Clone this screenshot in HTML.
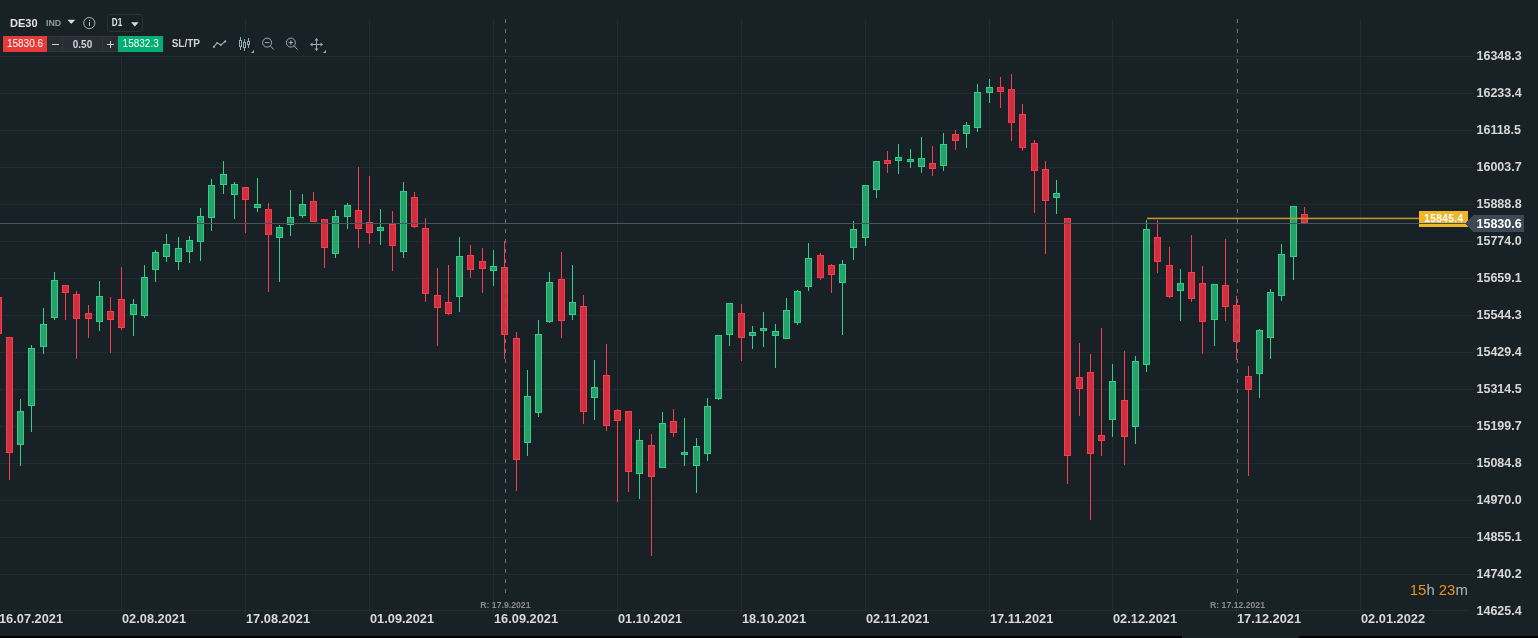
<!DOCTYPE html>
<html><head><meta charset="utf-8"><style>
html,body{margin:0;padding:0;background:#182125;}
body{width:1538px;height:638px;overflow:hidden;}
svg{display:block;will-change:transform;}
text{font-family:"Liberation Sans",sans-serif;}
</style></head><body>
<svg width="1538" height="638" viewBox="0 0 1538 638">
<rect x="0" y="0" width="1538" height="638" fill="#182125"/>
<g shape-rendering="crispEdges">
<rect x="0" y="56" width="1474" height="1" fill="#222b30"/>
<rect x="0" y="93" width="1474" height="1" fill="#222b30"/>
<rect x="0" y="130" width="1474" height="1" fill="#222b30"/>
<rect x="0" y="167" width="1474" height="1" fill="#222b30"/>
<rect x="0" y="204" width="1474" height="1" fill="#222b30"/>
<rect x="0" y="241" width="1474" height="1" fill="#222b30"/>
<rect x="0" y="278" width="1474" height="1" fill="#222b30"/>
<rect x="0" y="315" width="1474" height="1" fill="#222b30"/>
<rect x="0" y="352" width="1474" height="1" fill="#222b30"/>
<rect x="0" y="389" width="1474" height="1" fill="#222b30"/>
<rect x="0" y="426" width="1474" height="1" fill="#222b30"/>
<rect x="0" y="463" width="1474" height="1" fill="#222b30"/>
<rect x="0" y="500" width="1474" height="1" fill="#222b30"/>
<rect x="0" y="537" width="1474" height="1" fill="#222b30"/>
<rect x="0" y="574" width="1474" height="1" fill="#222b30"/>
<rect x="0" y="610" width="1469" height="1" fill="#222b30"/>
<rect x="121" y="19" width="1" height="595" fill="#222b30"/>
<rect x="245" y="19" width="1" height="595" fill="#222b30"/>
<rect x="369" y="19" width="1" height="595" fill="#222b30"/>
<rect x="493" y="19" width="1" height="595" fill="#222b30"/>
<rect x="617" y="19" width="1" height="595" fill="#222b30"/>
<rect x="741" y="19" width="1" height="595" fill="#222b30"/>
<rect x="865" y="19" width="1" height="595" fill="#222b30"/>
<rect x="989" y="19" width="1" height="595" fill="#222b30"/>
<rect x="1112" y="19" width="1" height="595" fill="#222b30"/>
<rect x="1236" y="19" width="1" height="595" fill="#222b30"/>
<rect x="1360" y="19" width="1" height="595" fill="#222b30"/>
<rect x="0" y="0" width="170" height="56" fill="#182125"/>
<rect x="0" y="33" width="335" height="23" fill="#182125"/>
<rect x="-2" y="297" width="1" height="37" fill="#f83c4e"/>
<rect x="-5" y="297" width="7" height="37" fill="#f83c4e"/>
<rect x="-4" y="298" width="5" height="35" fill="#cf2f3e"/>
<rect x="9" y="337" width="1" height="143" fill="#f83c4e"/>
<rect x="6" y="337" width="7" height="116" fill="#f83c4e"/>
<rect x="7" y="338" width="5" height="114" fill="#cf2f3e"/>
<rect x="20" y="399" width="1" height="67" fill="#2ed089"/>
<rect x="17" y="411" width="7" height="34" fill="#2ed089"/>
<rect x="18" y="412" width="5" height="32" fill="#25a169"/>
<rect x="31" y="345" width="1" height="87" fill="#2ed089"/>
<rect x="28" y="348" width="7" height="58" fill="#2ed089"/>
<rect x="29" y="349" width="5" height="56" fill="#25a169"/>
<rect x="43" y="308" width="1" height="46" fill="#2ed089"/>
<rect x="40" y="324" width="7" height="23" fill="#2ed089"/>
<rect x="41" y="325" width="5" height="21" fill="#25a169"/>
<rect x="54" y="272" width="1" height="48" fill="#2ed089"/>
<rect x="51" y="280" width="7" height="38" fill="#2ed089"/>
<rect x="52" y="281" width="5" height="36" fill="#25a169"/>
<rect x="65" y="285" width="1" height="35" fill="#f83c4e"/>
<rect x="62" y="285" width="7" height="8" fill="#f83c4e"/>
<rect x="63" y="286" width="5" height="6" fill="#cf2f3e"/>
<rect x="76" y="291" width="1" height="68" fill="#f83c4e"/>
<rect x="73" y="294" width="7" height="25" fill="#f83c4e"/>
<rect x="74" y="295" width="5" height="23" fill="#cf2f3e"/>
<rect x="88" y="305" width="1" height="33" fill="#f83c4e"/>
<rect x="85" y="313" width="7" height="6" fill="#f83c4e"/>
<rect x="86" y="314" width="5" height="4" fill="#cf2f3e"/>
<rect x="99" y="281" width="1" height="50" fill="#2ed089"/>
<rect x="96" y="296" width="7" height="26" fill="#2ed089"/>
<rect x="97" y="297" width="5" height="24" fill="#25a169"/>
<rect x="110" y="297" width="1" height="56" fill="#f83c4e"/>
<rect x="107" y="311" width="7" height="9" fill="#f83c4e"/>
<rect x="108" y="312" width="5" height="7" fill="#cf2f3e"/>
<rect x="121" y="267" width="1" height="63" fill="#f83c4e"/>
<rect x="118" y="299" width="7" height="29" fill="#f83c4e"/>
<rect x="119" y="300" width="5" height="27" fill="#cf2f3e"/>
<rect x="133" y="299" width="1" height="37" fill="#2ed089"/>
<rect x="130" y="304" width="7" height="11" fill="#2ed089"/>
<rect x="131" y="305" width="5" height="9" fill="#25a169"/>
<rect x="144" y="265" width="1" height="53" fill="#2ed089"/>
<rect x="141" y="277" width="7" height="39" fill="#2ed089"/>
<rect x="142" y="278" width="5" height="37" fill="#25a169"/>
<rect x="155" y="250" width="1" height="32" fill="#2ed089"/>
<rect x="152" y="252" width="7" height="18" fill="#2ed089"/>
<rect x="153" y="253" width="5" height="16" fill="#25a169"/>
<rect x="166" y="234" width="1" height="28" fill="#2ed089"/>
<rect x="163" y="244" width="7" height="13" fill="#2ed089"/>
<rect x="164" y="245" width="5" height="11" fill="#25a169"/>
<rect x="178" y="237" width="1" height="33" fill="#2ed089"/>
<rect x="175" y="248" width="7" height="14" fill="#2ed089"/>
<rect x="176" y="249" width="5" height="12" fill="#25a169"/>
<rect x="189" y="236" width="1" height="27" fill="#2ed089"/>
<rect x="186" y="240" width="7" height="12" fill="#2ed089"/>
<rect x="187" y="241" width="5" height="10" fill="#25a169"/>
<rect x="200" y="208" width="1" height="53" fill="#2ed089"/>
<rect x="197" y="216" width="7" height="26" fill="#2ed089"/>
<rect x="198" y="217" width="5" height="24" fill="#25a169"/>
<rect x="211" y="179" width="1" height="52" fill="#2ed089"/>
<rect x="208" y="185" width="7" height="33" fill="#2ed089"/>
<rect x="209" y="186" width="5" height="31" fill="#25a169"/>
<rect x="223" y="161" width="1" height="33" fill="#2ed089"/>
<rect x="220" y="174" width="7" height="11" fill="#2ed089"/>
<rect x="221" y="175" width="5" height="9" fill="#25a169"/>
<rect x="234" y="182" width="1" height="37" fill="#2ed089"/>
<rect x="231" y="184" width="7" height="11" fill="#2ed089"/>
<rect x="232" y="185" width="5" height="9" fill="#25a169"/>
<rect x="245" y="187" width="1" height="46" fill="#f83c4e"/>
<rect x="242" y="187" width="7" height="13" fill="#f83c4e"/>
<rect x="243" y="188" width="5" height="11" fill="#cf2f3e"/>
<rect x="257" y="178" width="1" height="34" fill="#2ed089"/>
<rect x="254" y="204" width="7" height="4" fill="#2ed089"/>
<rect x="255" y="205" width="5" height="2" fill="#25a169"/>
<rect x="268" y="203" width="1" height="89" fill="#f83c4e"/>
<rect x="265" y="209" width="7" height="26" fill="#f83c4e"/>
<rect x="266" y="210" width="5" height="24" fill="#cf2f3e"/>
<rect x="279" y="225" width="1" height="57" fill="#2ed089"/>
<rect x="276" y="227" width="7" height="11" fill="#2ed089"/>
<rect x="277" y="228" width="5" height="9" fill="#25a169"/>
<rect x="290" y="190" width="1" height="46" fill="#2ed089"/>
<rect x="287" y="217" width="7" height="8" fill="#2ed089"/>
<rect x="288" y="218" width="5" height="6" fill="#25a169"/>
<rect x="302" y="194" width="1" height="24" fill="#2ed089"/>
<rect x="299" y="204" width="7" height="12" fill="#2ed089"/>
<rect x="300" y="205" width="5" height="10" fill="#25a169"/>
<rect x="313" y="192" width="1" height="30" fill="#f83c4e"/>
<rect x="310" y="201" width="7" height="21" fill="#f83c4e"/>
<rect x="311" y="202" width="5" height="19" fill="#cf2f3e"/>
<rect x="324" y="219" width="1" height="49" fill="#f83c4e"/>
<rect x="321" y="219" width="7" height="29" fill="#f83c4e"/>
<rect x="322" y="220" width="5" height="27" fill="#cf2f3e"/>
<rect x="335" y="210" width="1" height="48" fill="#2ed089"/>
<rect x="332" y="216" width="7" height="38" fill="#2ed089"/>
<rect x="333" y="217" width="5" height="36" fill="#25a169"/>
<rect x="347" y="203" width="1" height="26" fill="#2ed089"/>
<rect x="344" y="205" width="7" height="12" fill="#2ed089"/>
<rect x="345" y="206" width="5" height="10" fill="#25a169"/>
<rect x="358" y="167" width="1" height="81" fill="#f83c4e"/>
<rect x="355" y="210" width="7" height="19" fill="#f83c4e"/>
<rect x="356" y="211" width="5" height="17" fill="#cf2f3e"/>
<rect x="369" y="176" width="1" height="68" fill="#f83c4e"/>
<rect x="366" y="222" width="7" height="11" fill="#f83c4e"/>
<rect x="367" y="223" width="5" height="9" fill="#cf2f3e"/>
<rect x="380" y="209" width="1" height="36" fill="#2ed089"/>
<rect x="377" y="227" width="7" height="4" fill="#2ed089"/>
<rect x="378" y="228" width="5" height="2" fill="#25a169"/>
<rect x="392" y="211" width="1" height="60" fill="#f83c4e"/>
<rect x="389" y="224" width="7" height="22" fill="#f83c4e"/>
<rect x="390" y="225" width="5" height="20" fill="#cf2f3e"/>
<rect x="403" y="182" width="1" height="76" fill="#2ed089"/>
<rect x="400" y="191" width="7" height="61" fill="#2ed089"/>
<rect x="401" y="192" width="5" height="59" fill="#25a169"/>
<rect x="414" y="192" width="1" height="36" fill="#f83c4e"/>
<rect x="411" y="197" width="7" height="30" fill="#f83c4e"/>
<rect x="412" y="198" width="5" height="28" fill="#cf2f3e"/>
<rect x="425" y="218" width="1" height="84" fill="#f83c4e"/>
<rect x="422" y="228" width="7" height="66" fill="#f83c4e"/>
<rect x="423" y="229" width="5" height="64" fill="#cf2f3e"/>
<rect x="437" y="268" width="1" height="78" fill="#f83c4e"/>
<rect x="434" y="295" width="7" height="13" fill="#f83c4e"/>
<rect x="435" y="296" width="5" height="11" fill="#cf2f3e"/>
<rect x="448" y="265" width="1" height="50" fill="#f83c4e"/>
<rect x="445" y="302" width="7" height="12" fill="#f83c4e"/>
<rect x="446" y="303" width="5" height="10" fill="#cf2f3e"/>
<rect x="459" y="237" width="1" height="75" fill="#2ed089"/>
<rect x="456" y="256" width="7" height="41" fill="#2ed089"/>
<rect x="457" y="257" width="5" height="39" fill="#25a169"/>
<rect x="470" y="245" width="1" height="33" fill="#f83c4e"/>
<rect x="467" y="255" width="7" height="15" fill="#f83c4e"/>
<rect x="468" y="256" width="5" height="13" fill="#cf2f3e"/>
<rect x="482" y="248" width="1" height="45" fill="#f83c4e"/>
<rect x="479" y="261" width="7" height="8" fill="#f83c4e"/>
<rect x="480" y="262" width="5" height="6" fill="#cf2f3e"/>
<rect x="493" y="250" width="1" height="36" fill="#2ed089"/>
<rect x="490" y="266" width="7" height="5" fill="#2ed089"/>
<rect x="491" y="267" width="5" height="3" fill="#25a169"/>
<rect x="504" y="241" width="1" height="118" fill="#f83c4e"/>
<rect x="501" y="267" width="7" height="68" fill="#f83c4e"/>
<rect x="502" y="268" width="5" height="66" fill="#cf2f3e"/>
<rect x="516" y="332" width="1" height="159" fill="#f83c4e"/>
<rect x="513" y="338" width="7" height="122" fill="#f83c4e"/>
<rect x="514" y="339" width="5" height="120" fill="#cf2f3e"/>
<rect x="527" y="370" width="1" height="86" fill="#2ed089"/>
<rect x="524" y="396" width="7" height="47" fill="#2ed089"/>
<rect x="525" y="397" width="5" height="45" fill="#25a169"/>
<rect x="538" y="320" width="1" height="97" fill="#2ed089"/>
<rect x="535" y="334" width="7" height="79" fill="#2ed089"/>
<rect x="536" y="335" width="5" height="77" fill="#25a169"/>
<rect x="549" y="272" width="1" height="51" fill="#2ed089"/>
<rect x="546" y="282" width="7" height="40" fill="#2ed089"/>
<rect x="547" y="283" width="5" height="38" fill="#25a169"/>
<rect x="561" y="252" width="1" height="86" fill="#f83c4e"/>
<rect x="558" y="279" width="7" height="42" fill="#f83c4e"/>
<rect x="559" y="280" width="5" height="40" fill="#cf2f3e"/>
<rect x="572" y="265" width="1" height="55" fill="#2ed089"/>
<rect x="569" y="302" width="7" height="13" fill="#2ed089"/>
<rect x="570" y="303" width="5" height="11" fill="#25a169"/>
<rect x="583" y="295" width="1" height="129" fill="#f83c4e"/>
<rect x="580" y="306" width="7" height="106" fill="#f83c4e"/>
<rect x="581" y="307" width="5" height="104" fill="#cf2f3e"/>
<rect x="594" y="360" width="1" height="60" fill="#2ed089"/>
<rect x="591" y="387" width="7" height="11" fill="#2ed089"/>
<rect x="592" y="388" width="5" height="9" fill="#25a169"/>
<rect x="606" y="344" width="1" height="87" fill="#f83c4e"/>
<rect x="603" y="375" width="7" height="51" fill="#f83c4e"/>
<rect x="604" y="376" width="5" height="49" fill="#cf2f3e"/>
<rect x="617" y="409" width="1" height="93" fill="#f83c4e"/>
<rect x="614" y="410" width="7" height="11" fill="#f83c4e"/>
<rect x="615" y="411" width="5" height="9" fill="#cf2f3e"/>
<rect x="628" y="411" width="1" height="81" fill="#f83c4e"/>
<rect x="625" y="411" width="7" height="61" fill="#f83c4e"/>
<rect x="626" y="412" width="5" height="59" fill="#cf2f3e"/>
<rect x="639" y="429" width="1" height="70" fill="#2ed089"/>
<rect x="636" y="440" width="7" height="34" fill="#2ed089"/>
<rect x="637" y="441" width="5" height="32" fill="#25a169"/>
<rect x="651" y="434" width="1" height="122" fill="#f83c4e"/>
<rect x="648" y="445" width="7" height="32" fill="#f83c4e"/>
<rect x="649" y="446" width="5" height="30" fill="#cf2f3e"/>
<rect x="662" y="412" width="1" height="56" fill="#2ed089"/>
<rect x="659" y="423" width="7" height="45" fill="#2ed089"/>
<rect x="660" y="424" width="5" height="43" fill="#25a169"/>
<rect x="673" y="409" width="1" height="28" fill="#f83c4e"/>
<rect x="670" y="421" width="7" height="12" fill="#f83c4e"/>
<rect x="671" y="422" width="5" height="10" fill="#cf2f3e"/>
<rect x="684" y="418" width="1" height="48" fill="#2ed089"/>
<rect x="681" y="452" width="7" height="3" fill="#2ed089"/>
<rect x="682" y="453" width="5" height="1" fill="#25a169"/>
<rect x="696" y="438" width="1" height="55" fill="#2ed089"/>
<rect x="693" y="446" width="7" height="20" fill="#2ed089"/>
<rect x="694" y="447" width="5" height="18" fill="#25a169"/>
<rect x="707" y="398" width="1" height="63" fill="#2ed089"/>
<rect x="704" y="406" width="7" height="48" fill="#2ed089"/>
<rect x="705" y="407" width="5" height="46" fill="#25a169"/>
<rect x="718" y="335" width="1" height="65" fill="#2ed089"/>
<rect x="715" y="335" width="7" height="64" fill="#2ed089"/>
<rect x="716" y="336" width="5" height="62" fill="#25a169"/>
<rect x="729" y="303" width="1" height="43" fill="#2ed089"/>
<rect x="726" y="303" width="7" height="32" fill="#2ed089"/>
<rect x="727" y="304" width="5" height="30" fill="#25a169"/>
<rect x="741" y="304" width="1" height="57" fill="#f83c4e"/>
<rect x="738" y="313" width="7" height="25" fill="#f83c4e"/>
<rect x="739" y="314" width="5" height="23" fill="#cf2f3e"/>
<rect x="752" y="326" width="1" height="23" fill="#2ed089"/>
<rect x="749" y="332" width="7" height="4" fill="#2ed089"/>
<rect x="750" y="333" width="5" height="2" fill="#25a169"/>
<rect x="763" y="312" width="1" height="35" fill="#2ed089"/>
<rect x="760" y="328" width="7" height="3" fill="#2ed089"/>
<rect x="761" y="329" width="5" height="1" fill="#25a169"/>
<rect x="775" y="324" width="1" height="44" fill="#2ed089"/>
<rect x="772" y="331" width="7" height="5" fill="#2ed089"/>
<rect x="773" y="332" width="5" height="3" fill="#25a169"/>
<rect x="786" y="298" width="1" height="41" fill="#2ed089"/>
<rect x="783" y="310" width="7" height="29" fill="#2ed089"/>
<rect x="784" y="311" width="5" height="27" fill="#25a169"/>
<rect x="797" y="290" width="1" height="35" fill="#2ed089"/>
<rect x="794" y="291" width="7" height="32" fill="#2ed089"/>
<rect x="795" y="292" width="5" height="30" fill="#25a169"/>
<rect x="808" y="243" width="1" height="48" fill="#2ed089"/>
<rect x="805" y="258" width="7" height="29" fill="#2ed089"/>
<rect x="806" y="259" width="5" height="27" fill="#25a169"/>
<rect x="820" y="253" width="1" height="27" fill="#f83c4e"/>
<rect x="817" y="255" width="7" height="23" fill="#f83c4e"/>
<rect x="818" y="256" width="5" height="21" fill="#cf2f3e"/>
<rect x="831" y="264" width="1" height="29" fill="#f83c4e"/>
<rect x="828" y="265" width="7" height="10" fill="#f83c4e"/>
<rect x="829" y="266" width="5" height="8" fill="#cf2f3e"/>
<rect x="842" y="260" width="1" height="75" fill="#2ed089"/>
<rect x="839" y="264" width="7" height="19" fill="#2ed089"/>
<rect x="840" y="265" width="5" height="17" fill="#25a169"/>
<rect x="853" y="221" width="1" height="39" fill="#2ed089"/>
<rect x="850" y="229" width="7" height="19" fill="#2ed089"/>
<rect x="851" y="230" width="5" height="17" fill="#25a169"/>
<rect x="865" y="185" width="1" height="61" fill="#2ed089"/>
<rect x="862" y="185" width="7" height="53" fill="#2ed089"/>
<rect x="863" y="186" width="5" height="51" fill="#25a169"/>
<rect x="876" y="161" width="1" height="37" fill="#2ed089"/>
<rect x="873" y="161" width="7" height="29" fill="#2ed089"/>
<rect x="874" y="162" width="5" height="27" fill="#25a169"/>
<rect x="887" y="151" width="1" height="22" fill="#f83c4e"/>
<rect x="884" y="160" width="7" height="4" fill="#f83c4e"/>
<rect x="885" y="161" width="5" height="2" fill="#cf2f3e"/>
<rect x="898" y="144" width="1" height="30" fill="#2ed089"/>
<rect x="895" y="157" width="7" height="4" fill="#2ed089"/>
<rect x="896" y="158" width="5" height="2" fill="#25a169"/>
<rect x="910" y="149" width="1" height="19" fill="#2ed089"/>
<rect x="907" y="159" width="7" height="3" fill="#2ed089"/>
<rect x="908" y="160" width="5" height="1" fill="#25a169"/>
<rect x="921" y="137" width="1" height="36" fill="#2ed089"/>
<rect x="918" y="158" width="7" height="9" fill="#2ed089"/>
<rect x="919" y="159" width="5" height="7" fill="#25a169"/>
<rect x="932" y="146" width="1" height="30" fill="#f83c4e"/>
<rect x="929" y="163" width="7" height="6" fill="#f83c4e"/>
<rect x="930" y="164" width="5" height="4" fill="#cf2f3e"/>
<rect x="943" y="133" width="1" height="38" fill="#2ed089"/>
<rect x="940" y="144" width="7" height="22" fill="#2ed089"/>
<rect x="941" y="145" width="5" height="20" fill="#25a169"/>
<rect x="955" y="130" width="1" height="20" fill="#f83c4e"/>
<rect x="952" y="134" width="7" height="7" fill="#f83c4e"/>
<rect x="953" y="135" width="5" height="5" fill="#cf2f3e"/>
<rect x="966" y="122" width="1" height="26" fill="#2ed089"/>
<rect x="963" y="125" width="7" height="9" fill="#2ed089"/>
<rect x="964" y="126" width="5" height="7" fill="#25a169"/>
<rect x="977" y="84" width="1" height="48" fill="#2ed089"/>
<rect x="974" y="92" width="7" height="36" fill="#2ed089"/>
<rect x="975" y="93" width="5" height="34" fill="#25a169"/>
<rect x="989" y="79" width="1" height="24" fill="#2ed089"/>
<rect x="986" y="87" width="7" height="6" fill="#2ed089"/>
<rect x="987" y="88" width="5" height="4" fill="#25a169"/>
<rect x="1000" y="77" width="1" height="31" fill="#f83c4e"/>
<rect x="997" y="87" width="7" height="5" fill="#f83c4e"/>
<rect x="998" y="88" width="5" height="3" fill="#cf2f3e"/>
<rect x="1011" y="74" width="1" height="67" fill="#f83c4e"/>
<rect x="1008" y="89" width="7" height="34" fill="#f83c4e"/>
<rect x="1009" y="90" width="5" height="32" fill="#cf2f3e"/>
<rect x="1022" y="104" width="1" height="47" fill="#f83c4e"/>
<rect x="1019" y="114" width="7" height="34" fill="#f83c4e"/>
<rect x="1020" y="115" width="5" height="32" fill="#cf2f3e"/>
<rect x="1034" y="140" width="1" height="73" fill="#f83c4e"/>
<rect x="1031" y="143" width="7" height="28" fill="#f83c4e"/>
<rect x="1032" y="144" width="5" height="26" fill="#cf2f3e"/>
<rect x="1045" y="161" width="1" height="93" fill="#f83c4e"/>
<rect x="1042" y="169" width="7" height="32" fill="#f83c4e"/>
<rect x="1043" y="170" width="5" height="30" fill="#cf2f3e"/>
<rect x="1056" y="180" width="1" height="34" fill="#2ed089"/>
<rect x="1053" y="193" width="7" height="5" fill="#2ed089"/>
<rect x="1054" y="194" width="5" height="3" fill="#25a169"/>
<rect x="1067" y="218" width="1" height="266" fill="#f83c4e"/>
<rect x="1064" y="218" width="7" height="238" fill="#f83c4e"/>
<rect x="1065" y="219" width="5" height="236" fill="#cf2f3e"/>
<rect x="1079" y="343" width="1" height="73" fill="#f83c4e"/>
<rect x="1076" y="377" width="7" height="12" fill="#f83c4e"/>
<rect x="1077" y="378" width="5" height="10" fill="#cf2f3e"/>
<rect x="1090" y="354" width="1" height="166" fill="#f83c4e"/>
<rect x="1087" y="372" width="7" height="82" fill="#f83c4e"/>
<rect x="1088" y="373" width="5" height="80" fill="#cf2f3e"/>
<rect x="1101" y="328" width="1" height="128" fill="#f83c4e"/>
<rect x="1098" y="435" width="7" height="6" fill="#f83c4e"/>
<rect x="1099" y="436" width="5" height="4" fill="#cf2f3e"/>
<rect x="1112" y="364" width="1" height="73" fill="#2ed089"/>
<rect x="1109" y="381" width="7" height="39" fill="#2ed089"/>
<rect x="1110" y="382" width="5" height="37" fill="#25a169"/>
<rect x="1124" y="351" width="1" height="114" fill="#f83c4e"/>
<rect x="1121" y="400" width="7" height="37" fill="#f83c4e"/>
<rect x="1122" y="401" width="5" height="35" fill="#cf2f3e"/>
<rect x="1135" y="356" width="1" height="88" fill="#2ed089"/>
<rect x="1132" y="361" width="7" height="66" fill="#2ed089"/>
<rect x="1133" y="362" width="5" height="64" fill="#25a169"/>
<rect x="1146" y="220" width="1" height="152" fill="#2ed089"/>
<rect x="1143" y="229" width="7" height="136" fill="#2ed089"/>
<rect x="1144" y="230" width="5" height="134" fill="#25a169"/>
<rect x="1157" y="220" width="1" height="53" fill="#f83c4e"/>
<rect x="1154" y="237" width="7" height="25" fill="#f83c4e"/>
<rect x="1155" y="238" width="5" height="23" fill="#cf2f3e"/>
<rect x="1169" y="247" width="1" height="51" fill="#f83c4e"/>
<rect x="1166" y="265" width="7" height="32" fill="#f83c4e"/>
<rect x="1167" y="266" width="5" height="30" fill="#cf2f3e"/>
<rect x="1180" y="269" width="1" height="52" fill="#2ed089"/>
<rect x="1177" y="283" width="7" height="8" fill="#2ed089"/>
<rect x="1178" y="284" width="5" height="6" fill="#25a169"/>
<rect x="1191" y="235" width="1" height="67" fill="#f83c4e"/>
<rect x="1188" y="272" width="7" height="27" fill="#f83c4e"/>
<rect x="1189" y="273" width="5" height="25" fill="#cf2f3e"/>
<rect x="1202" y="266" width="1" height="88" fill="#f83c4e"/>
<rect x="1199" y="283" width="7" height="39" fill="#f83c4e"/>
<rect x="1200" y="284" width="5" height="37" fill="#cf2f3e"/>
<rect x="1214" y="284" width="1" height="62" fill="#2ed089"/>
<rect x="1211" y="284" width="7" height="36" fill="#2ed089"/>
<rect x="1212" y="285" width="5" height="34" fill="#25a169"/>
<rect x="1225" y="239" width="1" height="82" fill="#f83c4e"/>
<rect x="1222" y="285" width="7" height="22" fill="#f83c4e"/>
<rect x="1223" y="286" width="5" height="20" fill="#cf2f3e"/>
<rect x="1236" y="296" width="1" height="64" fill="#f83c4e"/>
<rect x="1233" y="305" width="7" height="37" fill="#f83c4e"/>
<rect x="1234" y="306" width="5" height="35" fill="#cf2f3e"/>
<rect x="1248" y="366" width="1" height="110" fill="#f83c4e"/>
<rect x="1245" y="376" width="7" height="14" fill="#f83c4e"/>
<rect x="1246" y="377" width="5" height="12" fill="#cf2f3e"/>
<rect x="1259" y="329" width="1" height="69" fill="#2ed089"/>
<rect x="1256" y="330" width="7" height="44" fill="#2ed089"/>
<rect x="1257" y="331" width="5" height="42" fill="#25a169"/>
<rect x="1270" y="289" width="1" height="70" fill="#2ed089"/>
<rect x="1267" y="292" width="7" height="46" fill="#2ed089"/>
<rect x="1268" y="293" width="5" height="44" fill="#25a169"/>
<rect x="1281" y="244" width="1" height="57" fill="#2ed089"/>
<rect x="1278" y="254" width="7" height="42" fill="#2ed089"/>
<rect x="1279" y="255" width="5" height="40" fill="#25a169"/>
<rect x="1293" y="206" width="1" height="74" fill="#2ed089"/>
<rect x="1290" y="206" width="7" height="51" fill="#2ed089"/>
<rect x="1291" y="207" width="5" height="49" fill="#25a169"/>
<rect x="1304" y="207" width="1" height="16" fill="#f83c4e"/>
<rect x="1301" y="214" width="7" height="9" fill="#f83c4e"/>
<rect x="1302" y="215" width="5" height="7" fill="#cf2f3e"/>
<line x1="505.5" y1="19" x2="505.5" y2="594" stroke="#6b7075" stroke-width="1" stroke-dasharray="4 6"/>
<line x1="1237.5" y1="19" x2="1237.5" y2="594" stroke="#6b7075" stroke-width="1" stroke-dasharray="4 6"/>
<rect x="1147" y="218" width="272" height="1" fill="#c09a30"/><rect x="1147" y="217" width="272" height="1" fill="#c09a30" fill-opacity="0.35"/><rect x="1147" y="219" width="272" height="1" fill="#c09a30" fill-opacity="0.2"/>
<rect x="1419" y="211" width="49" height="16" fill="#f1b52a"/>
<rect x="0" y="223" width="1466" height="1" fill="#465660"/>
<polygon points="1464.5,223.5 1473,215 1524,215 1524,232 1473,232" fill="#3d4a55"/>
<rect x="0" y="636" width="1538" height="2" fill="#000"/>
<rect x="1182" y="636" width="117" height="2" fill="#182125"/>
</g>
<defs><linearGradient id="yg" x1="0" x2="1" y1="0" y2="0"><stop offset="0" stop-color="#a3822f"/><stop offset="1" stop-color="#d0a330"/></linearGradient></defs>
<text x="1424.3" y="221.8" font-size="10" font-weight="bold" fill="#ffffff" font-family="Liberation Sans" letter-spacing="0.42">15845.4</text>
<text x="1476.5" y="227.8" font-size="12.5" font-weight="bold" fill="#ffffff" font-family="Liberation Sans">15830.6</text>
<text x="1476.5" y="60.2" font-size="12.5" font-weight="bold" fill="#d8d8d8" font-family="Liberation Sans">16348.3</text>
<text x="1476.5" y="97.1" font-size="12.5" font-weight="bold" fill="#d8d8d8" font-family="Liberation Sans">16233.4</text>
<text x="1476.5" y="134.1" font-size="12.5" font-weight="bold" fill="#d8d8d8" font-family="Liberation Sans">16118.5</text>
<text x="1476.5" y="171.1" font-size="12.5" font-weight="bold" fill="#d8d8d8" font-family="Liberation Sans">16003.7</text>
<text x="1476.5" y="208.0" font-size="12.5" font-weight="bold" fill="#d8d8d8" font-family="Liberation Sans">15888.8</text>
<text x="1476.5" y="245.0" font-size="12.5" font-weight="bold" fill="#d8d8d8" font-family="Liberation Sans">15774.0</text>
<text x="1476.5" y="281.9" font-size="12.5" font-weight="bold" fill="#d8d8d8" font-family="Liberation Sans">15659.1</text>
<text x="1476.5" y="318.9" font-size="12.5" font-weight="bold" fill="#d8d8d8" font-family="Liberation Sans">15544.3</text>
<text x="1476.5" y="355.9" font-size="12.5" font-weight="bold" fill="#d8d8d8" font-family="Liberation Sans">15429.4</text>
<text x="1476.5" y="392.8" font-size="12.5" font-weight="bold" fill="#d8d8d8" font-family="Liberation Sans">15314.5</text>
<text x="1476.5" y="429.8" font-size="12.5" font-weight="bold" fill="#d8d8d8" font-family="Liberation Sans">15199.7</text>
<text x="1476.5" y="466.7" font-size="12.5" font-weight="bold" fill="#d8d8d8" font-family="Liberation Sans">15084.8</text>
<text x="1476.5" y="503.7" font-size="12.5" font-weight="bold" fill="#d8d8d8" font-family="Liberation Sans">14970.0</text>
<text x="1476.5" y="540.7" font-size="12.5" font-weight="bold" fill="#d8d8d8" font-family="Liberation Sans">14855.1</text>
<text x="1476.5" y="577.6" font-size="12.5" font-weight="bold" fill="#d8d8d8" font-family="Liberation Sans">14740.2</text>
<text x="1476.5" y="614.6" font-size="12.5" font-weight="bold" fill="#d8d8d8" font-family="Liberation Sans">14625.4</text>
<text x="-1" y="623" font-size="12.8" font-weight="bold" fill="#d8d8d8" font-family="Liberation Sans">16.07.2021</text>
<text x="122" y="623" font-size="12.8" font-weight="bold" fill="#d8d8d8" font-family="Liberation Sans">02.08.2021</text>
<text x="246" y="623" font-size="12.8" font-weight="bold" fill="#d8d8d8" font-family="Liberation Sans">17.08.2021</text>
<text x="370" y="623" font-size="12.8" font-weight="bold" fill="#d8d8d8" font-family="Liberation Sans">01.09.2021</text>
<text x="494" y="623" font-size="12.8" font-weight="bold" fill="#d8d8d8" font-family="Liberation Sans">16.09.2021</text>
<text x="618" y="623" font-size="12.8" font-weight="bold" fill="#d8d8d8" font-family="Liberation Sans">01.10.2021</text>
<text x="742" y="623" font-size="12.8" font-weight="bold" fill="#d8d8d8" font-family="Liberation Sans">18.10.2021</text>
<text x="866" y="623" font-size="12.8" font-weight="bold" fill="#d8d8d8" font-family="Liberation Sans">02.11.2021</text>
<text x="990" y="623" font-size="12.8" font-weight="bold" fill="#d8d8d8" font-family="Liberation Sans">17.11.2021</text>
<text x="1113" y="623" font-size="12.8" font-weight="bold" fill="#d8d8d8" font-family="Liberation Sans">02.12.2021</text>
<text x="1237" y="623" font-size="12.8" font-weight="bold" fill="#d8d8d8" font-family="Liberation Sans">17.12.2021</text>
<text x="1361" y="623" font-size="12.8" font-weight="bold" fill="#d8d8d8" font-family="Liberation Sans">02.01.2022</text>
<text x="505.4" y="608" font-size="8.7" font-weight="bold" fill="#8a8d90" text-anchor="middle" font-family="Liberation Sans">R: 17.9.2021</text>
<text x="1237.5" y="608" font-size="8.7" font-weight="bold" fill="#8a8d90" text-anchor="middle" font-family="Liberation Sans">R: 17.12.2021</text>
<text x="1409.8" y="594.6" font-size="14.9" fill="#aab3b8" font-family="Liberation Sans"><tspan fill="#ef9418">15</tspan>h <tspan fill="#ef9418">23</tspan>m</text>
<text x="10" y="27" font-size="11" font-weight="bold" fill="#e2e2e2" font-family="Liberation Sans">DE30</text>
<text x="46" y="26" font-size="8.8" font-weight="bold" fill="#8d9ca4" font-family="Liberation Sans">IND</text>
<polygon points="67.4,19.7 75.2,19.7 71.3,24.1" fill="#d8d8d8"/>
<circle cx="89.3" cy="23.1" r="5.6" fill="none" stroke="#a3b6be" stroke-width="1"/>
<rect x="89" y="22" width="1" height="4" fill="#b5c5cc"/><rect x="89" y="20" width="1" height="1" fill="#b5c5cc"/>
<rect x="107.5" y="14.5" width="35" height="17" rx="3" fill="none" stroke="#2a3239"/>
<text x="111.8" y="26.3" font-size="10.6" font-weight="bold" fill="#e2e2e2" font-family="Liberation Sans" textLength="10.4" lengthAdjust="spacingAndGlyphs">D1</text>
<polygon points="131,22.2 138.7,22.2 134.85,26.6" fill="#d8d8d8"/>
<rect x="3" y="36" width="44" height="16" fill="#e63a39"/>
<text x="25" y="47" font-size="10" fill="#ffffff" text-anchor="middle" font-family="Liberation Sans">15830.6</text>
<rect x="47" y="36" width="71" height="16" fill="#2f373f"/>
<rect x="47" y="37" width="70" height="14" fill="#262d35"/>
<rect x="62" y="36" width="1" height="16" fill="#2f373f"/><rect x="102" y="36" width="1" height="16" fill="#2f373f"/>
<rect x="52" y="44" width="7" height="1" fill="#cfcfcf"/>
<text x="82.5" y="48" font-size="10" font-weight="bold" fill="#d5d5d5" text-anchor="middle" font-family="Liberation Sans">0.50</text>
<rect x="107" y="44" width="7" height="1" fill="#cfcfcf"/><rect x="110" y="41" width="1" height="7" fill="#cfcfcf"/>
<rect x="118" y="36" width="45" height="16" fill="#03ae72"/>
<text x="140.7" y="47" font-size="10" fill="#ffffff" text-anchor="middle" font-family="Liberation Sans">15832.3</text>
<text x="171.7" y="47" font-size="10" font-weight="bold" fill="#d0d0d0" font-family="Liberation Sans">SL/TP</text>
<polyline points="213.9,46.9 217.1,42.8 220.9,45 225.2,41.4" fill="none" stroke="#96acb6" stroke-width="1.1"/>
<circle cx="213.9" cy="46.9" r="1.1" fill="#96acb6"/><circle cx="217.1" cy="42.8" r="0.7" fill="#96acb6"/><circle cx="220.9" cy="45" r="0.9" fill="#96acb6"/><circle cx="225.2" cy="41.4" r="1.1" fill="#96acb6"/>
<rect x="240" y="37" width="1" height="13" fill="#96acb6"/>
<rect x="239.5" y="40.5" width="2" height="6" fill="#182125" stroke="#96acb6" stroke-width="1"/>
<rect x="244" y="39" width="1" height="12" fill="#96acb6"/>
<rect x="243.5" y="42.5" width="2" height="5" fill="#182125" stroke="#96acb6" stroke-width="1"/>
<rect x="248" y="38" width="1" height="10" fill="#96acb6"/>
<rect x="247.5" y="41.5" width="2" height="3" fill="#182125" stroke="#96acb6" stroke-width="1"/>
<polygon points="254,50 254,53 251,53" fill="#96acb6"/>
<circle cx="267.1" cy="42.6" r="4.5" fill="none" stroke="#96acb6" stroke-width="1"/><line x1="270.3" y1="45.8" x2="273.8" y2="49.7" stroke="#96acb6" stroke-width="1"/><line x1="264.8" y1="42.6" x2="269.4" y2="42.6" stroke="#96acb6" stroke-width="1"/>
<circle cx="290.9" cy="42.6" r="4.5" fill="none" stroke="#96acb6" stroke-width="1"/><line x1="294.1" y1="45.8" x2="297.6" y2="49.7" stroke="#96acb6" stroke-width="1"/><line x1="288.6" y1="42.6" x2="293.2" y2="42.6" stroke="#96acb6" stroke-width="1"/><line x1="290.9" y1="40.3" x2="290.9" y2="44.9" stroke="#96acb6" stroke-width="1.1"/>
<line x1="310.5" y1="44.5" x2="322.5" y2="44.5" stroke="#96acb6" stroke-width="1"/><line x1="316.5" y1="38.5" x2="316.5" y2="50.5" stroke="#96acb6" stroke-width="1"/>
<polygon points="310,44.5 312.5,42.5 312.5,46.5" fill="#96acb6"/><polygon points="323,44.5 320.5,42.5 320.5,46.5" fill="#96acb6"/><polygon points="316.5,38 314.5,40.5 318.5,40.5" fill="#96acb6"/><polygon points="316.5,51 314.5,48.5 318.5,48.5" fill="#96acb6"/>
<polygon points="326,50 326,53 323,53" fill="#96acb6"/>
</svg>
</body></html>
